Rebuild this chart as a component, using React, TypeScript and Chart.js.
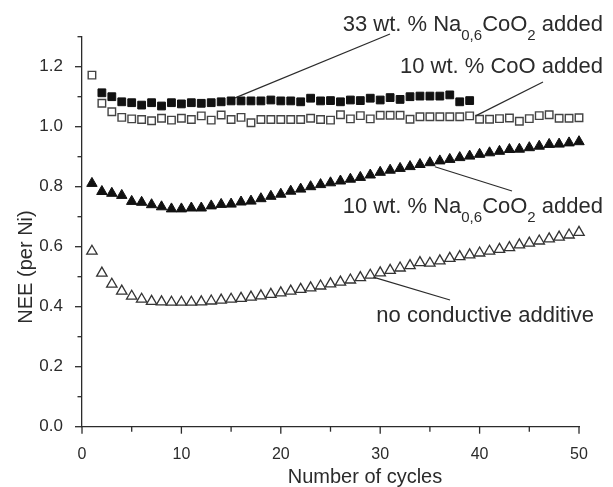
import React, { useEffect, useRef } from 'react';
import { Chart, registerables } from 'chart.js';

Chart.register(...registerables);

const FAM = '"Liberation Sans", Arial, Helvetica, sans-serif';

// x values (cycle numbers)
const cyclesAll = [
  1, 2, 3, 4, 5, 6, 7, 8, 9, 10, 11, 12, 13, 14, 15, 16, 17, 18, 19, 20, 21, 22, 23, 24, 25,
  26, 27, 28, 29, 30, 31, 32, 33, 34, 35, 36, 37, 38, 39, 40, 41, 42, 43, 44, 45, 46, 47, 48, 49, 50,
];
const cycles33 = [
  2, 3, 4, 5, 6, 7, 8, 9, 10, 11, 12, 13, 14, 15, 16, 17, 18, 19, 20, 21, 22, 23, 24, 25, 26,
  27, 28, 29, 30, 31, 32, 33, 34, 35, 36, 37, 38, 39,
];

// 33 wt.% Na0.6CoO2 added (filled squares)
const na33 = [
  1.113, 1.1, 1.083, 1.08, 1.072, 1.08, 1.069, 1.08, 1.076, 1.08, 1.078, 1.08, 1.083, 1.086,
  1.086, 1.086, 1.086, 1.089, 1.086, 1.086, 1.083, 1.095, 1.086, 1.087, 1.083, 1.089, 1.087,
  1.095, 1.089, 1.097, 1.091, 1.1, 1.102, 1.102, 1.102, 1.106, 1.083, 1.087,
];
// 10 wt.% CoO added (open squares)
const coo10 = [
  1.172, 1.078, 1.05, 1.031, 1.026, 1.024, 1.02, 1.028, 1.022, 1.028, 1.024, 1.036, 1.022, 1.039,
  1.024, 1.031, 1.013, 1.024, 1.024, 1.024, 1.024, 1.024, 1.028, 1.024, 1.022, 1.04, 1.026, 1.037,
  1.026, 1.038, 1.038, 1.038, 1.025, 1.033, 1.033, 1.033, 1.033, 1.033, 1.036, 1.025, 1.025,
  1.027, 1.029, 1.018, 1.027, 1.037, 1.04, 1.028, 1.028, 1.03,
];
// 10 wt.% Na0.6CoO2 added (filled triangles)
const na10 = [
  0.811, 0.784, 0.778, 0.771, 0.751, 0.748, 0.74, 0.733, 0.726, 0.726, 0.729, 0.729, 0.736, 0.741,
  0.742, 0.749, 0.752, 0.76, 0.768, 0.775, 0.785, 0.792, 0.8, 0.807, 0.813, 0.819, 0.825, 0.831,
  0.839, 0.848, 0.855, 0.861, 0.867, 0.874, 0.88, 0.886, 0.891, 0.897, 0.902, 0.908, 0.913, 0.918,
  0.924, 0.925, 0.93, 0.935, 0.941, 0.942, 0.946, 0.95,
];
// no conductive additive (open triangles)
const noAdd = [
  0.585, 0.512, 0.475, 0.452, 0.435, 0.425, 0.418, 0.416, 0.415, 0.415, 0.415, 0.416, 0.419, 0.422,
  0.425, 0.428, 0.432, 0.436, 0.441, 0.446, 0.452, 0.458, 0.463, 0.469, 0.476, 0.482, 0.489, 0.497,
  0.505, 0.513, 0.521, 0.529, 0.537, 0.547, 0.545, 0.553, 0.561, 0.567, 0.573, 0.579, 0.585, 0.591,
  0.597, 0.606, 0.612, 0.619, 0.626, 0.632, 0.639, 0.648,
];

const xTickLabels = ['0', '10', '20', '30', '40', '50'];
const yTickLabels = ['0.0', '0.2', '0.4', '0.6', '0.8', '1.0', '1.2'];

const INK = '#2b2b2b';

type Seg = { t: string; sub?: boolean };

function drawRich(ctx: CanvasRenderingContext2D, segs: Seg[], rightX: number, baseY: number) {
  const main = 22;
  const sub = 15;
  const drop = 9;
  const widths = segs.map((s) => {
    ctx.font = `${s.sub ? sub : main}px ${FAM}`;
    return ctx.measureText(s.t).width;
  });
  const total = widths.reduce((a, b) => a + b, 0);
  let x = rightX - total;
  ctx.textAlign = 'left';
  ctx.textBaseline = 'alphabetic';
  segs.forEach((s, i) => {
    ctx.font = `${s.sub ? sub : main}px ${FAM}`;
    ctx.fillText(s.t, x, baseY + (s.sub ? drop : 0));
    x += widths[i];
  });
}

const decor = {
  id: 'decor',
  afterDraw(chart: any) {
    const ctx: CanvasRenderingContext2D = chart.ctx;
    const xs = chart.scales.x;
    const ys = chart.scales.y;
    const area = chart.chartArea;
    ctx.save();
    ctx.strokeStyle = INK;
    ctx.fillStyle = INK;
    ctx.lineWidth = 1.3;

    // tick marks (major / minor)
    ys.ticks.forEach((t: any) => {
      const py = ys.getPixelForValue(t.value);
      const major = Math.round(t.value * 10) % 2 === 0;
      const len = major ? 7 : 4.5;
      ctx.beginPath();
      ctx.moveTo(area.left - len, py);
      ctx.lineTo(area.left, py);
      ctx.stroke();
    });
    xs.ticks.forEach((t: any) => {
      const px = xs.getPixelForValue(t.value);
      const major = Math.round(t.value) % 10 === 0;
      const len = major ? 7 : 5;
      ctx.beginPath();
      ctx.moveTo(px, area.bottom);
      ctx.lineTo(px, area.bottom + len);
      ctx.stroke();
    });

    // axis titles
    ctx.font = `20px ${FAM}`;
    ctx.textAlign = 'center';
    ctx.textBaseline = 'alphabetic';
    ctx.fillText('Number of cycles', 365, 483);
    ctx.save();
    ctx.translate(32, 267);
    ctx.rotate(-Math.PI / 2);
    ctx.fillText('NEE (per Ni)', 0, 0);
    ctx.restore();

    // annotations
    drawRich(ctx, [{ t: '33 wt. % Na' }, { t: '0,6', sub: true }, { t: 'CoO' }, { t: '2', sub: true }, { t: ' added' }], 603, 31);
    drawRich(ctx, [{ t: '10 wt. % CoO added' }], 603, 73);
    drawRich(ctx, [{ t: '10 wt. % Na' }, { t: '0,6', sub: true }, { t: 'CoO' }, { t: '2', sub: true }, { t: ' added' }], 603, 213);
    drawRich(ctx, [{ t: 'no conductive additive' }], 594, 322);

    // leader lines
    ctx.lineWidth = 1.2;
    const line = (x1: number, y1: number, x2: number, y2: number) => {
      ctx.beginPath();
      ctx.moveTo(x1, y1);
      ctx.lineTo(x2, y2);
      ctx.stroke();
    };
    const p1x = xs.getPixelForValue(cycles33[13]);
    const p1y = ys.getPixelForValue(na33[13]);
    line(p1x + 4, p1y - 3, 390, 34);
    const p2x = xs.getPixelForValue(cyclesAll[38]);
    const p2y = ys.getPixelForValue(coo10[38]);
    line(p2x + 6, p2y, 543, 82);
    const p3x = xs.getPixelForValue(cyclesAll[34]);
    const p3y = ys.getPixelForValue(na10[34]);
    line(p3x + 5, p3y + 4, 512, 191);
    const p4x = xs.getPixelForValue(cyclesAll[28]);
    const p4y = ys.getPixelForValue(noAdd[28]);
    line(p4x + 3, p4y + 2, 450, 300);

    ctx.restore();
  },
};

export default function App() {
  const ref = useRef<HTMLCanvasElement | null>(null);
  useEffect(() => {
    document.body.style.margin = '0';
    document.body.style.overflow = 'hidden';
    const canvas = ref.current;
    if (!canvas) return;
    const toXY = (xs: number[], ys: number[]) => ys.map((y, i) => ({ x: xs[i], y }));
    const chart = new Chart(canvas, {
      type: 'scatter',
      data: {
        datasets: [
          {
            label: 'no conductive additive',
            data: toXY(cyclesAll, noAdd),
            pointStyle: 'triangle',
            pointRadius: 6,
            backgroundColor: '#ffffff',
            borderColor: '#333333',
            borderWidth: 1.3,
            clip: false,
          },
          {
            label: '10 wt. % Na0,6CoO2 added',
            data: toXY(cyclesAll, na10),
            pointStyle: 'triangle',
            pointRadius: 6,
            backgroundColor: '#111111',
            borderColor: '#111111',
            borderWidth: 1,
            clip: false,
          },
          {
            label: '10 wt. % CoO added',
            data: toXY(cyclesAll, coo10),
            pointStyle: 'rect',
            pointRadius: 5.3,
            backgroundColor: '#ffffff',
            borderColor: '#444444',
            borderWidth: 1.4,
            clip: false,
          },
          {
            label: '33 wt. % Na0,6CoO2 added',
            data: toXY(cycles33, na33),
            pointStyle: 'rect',
            pointRadius: 5.5,
            backgroundColor: '#111111',
            borderColor: '#111111',
            borderWidth: 1,
            clip: false,
          },
        ],
      },
      options: {
        animation: false,
        responsive: false,
        devicePixelRatio: 1,
        layout: { padding: { top: 36.7, right: 34, bottom: 0, left: 0 } },
        plugins: { legend: { display: false }, tooltip: { enabled: false }, title: { display: false } },
        scales: {
          x: {
            type: 'linear',
            min: 0,
            max: 50,
            grid: { display: false },
            border: { display: true, color: INK, width: 1.3 },
            afterFit: (s: any) => {
              s.height = 487 - 426.7;
            },
            ticks: {
              stepSize: 5,
              autoSkip: false,
              maxRotation: 0,
              padding: 10,
              color: INK,
              font: { family: FAM, size: 16 },
              callback: (v: any) => {
                const n = Math.round(Number(v));
                return n % 10 === 0 ? xTickLabels[n / 10] : '';
              },
            },
          },
          y: {
            type: 'linear',
            min: 0,
            max: 1.3,
            grid: { display: false },
            border: { display: true, color: INK, width: 1.3 },
            afterFit: (s: any) => {
              s.width = 82;
            },
            ticks: {
              stepSize: 0.1,
              autoSkip: false,
              padding: 11,
              color: INK,
              font: { family: FAM, size: 17 },
              callback: (v: any) => {
                const n = Math.round(Number(v) * 10);
                return n % 2 === 0 ? yTickLabels[n / 2] : '';
              },
            },
          },
        },
      },
      plugins: [decor],
    });
    return () => chart.destroy();
  }, []);
  return (
    <canvas
      ref={ref}
      width={613}
      height={487}
      style={{ display: 'block', width: '613px', height: '487px' }}
    />
  );
}
